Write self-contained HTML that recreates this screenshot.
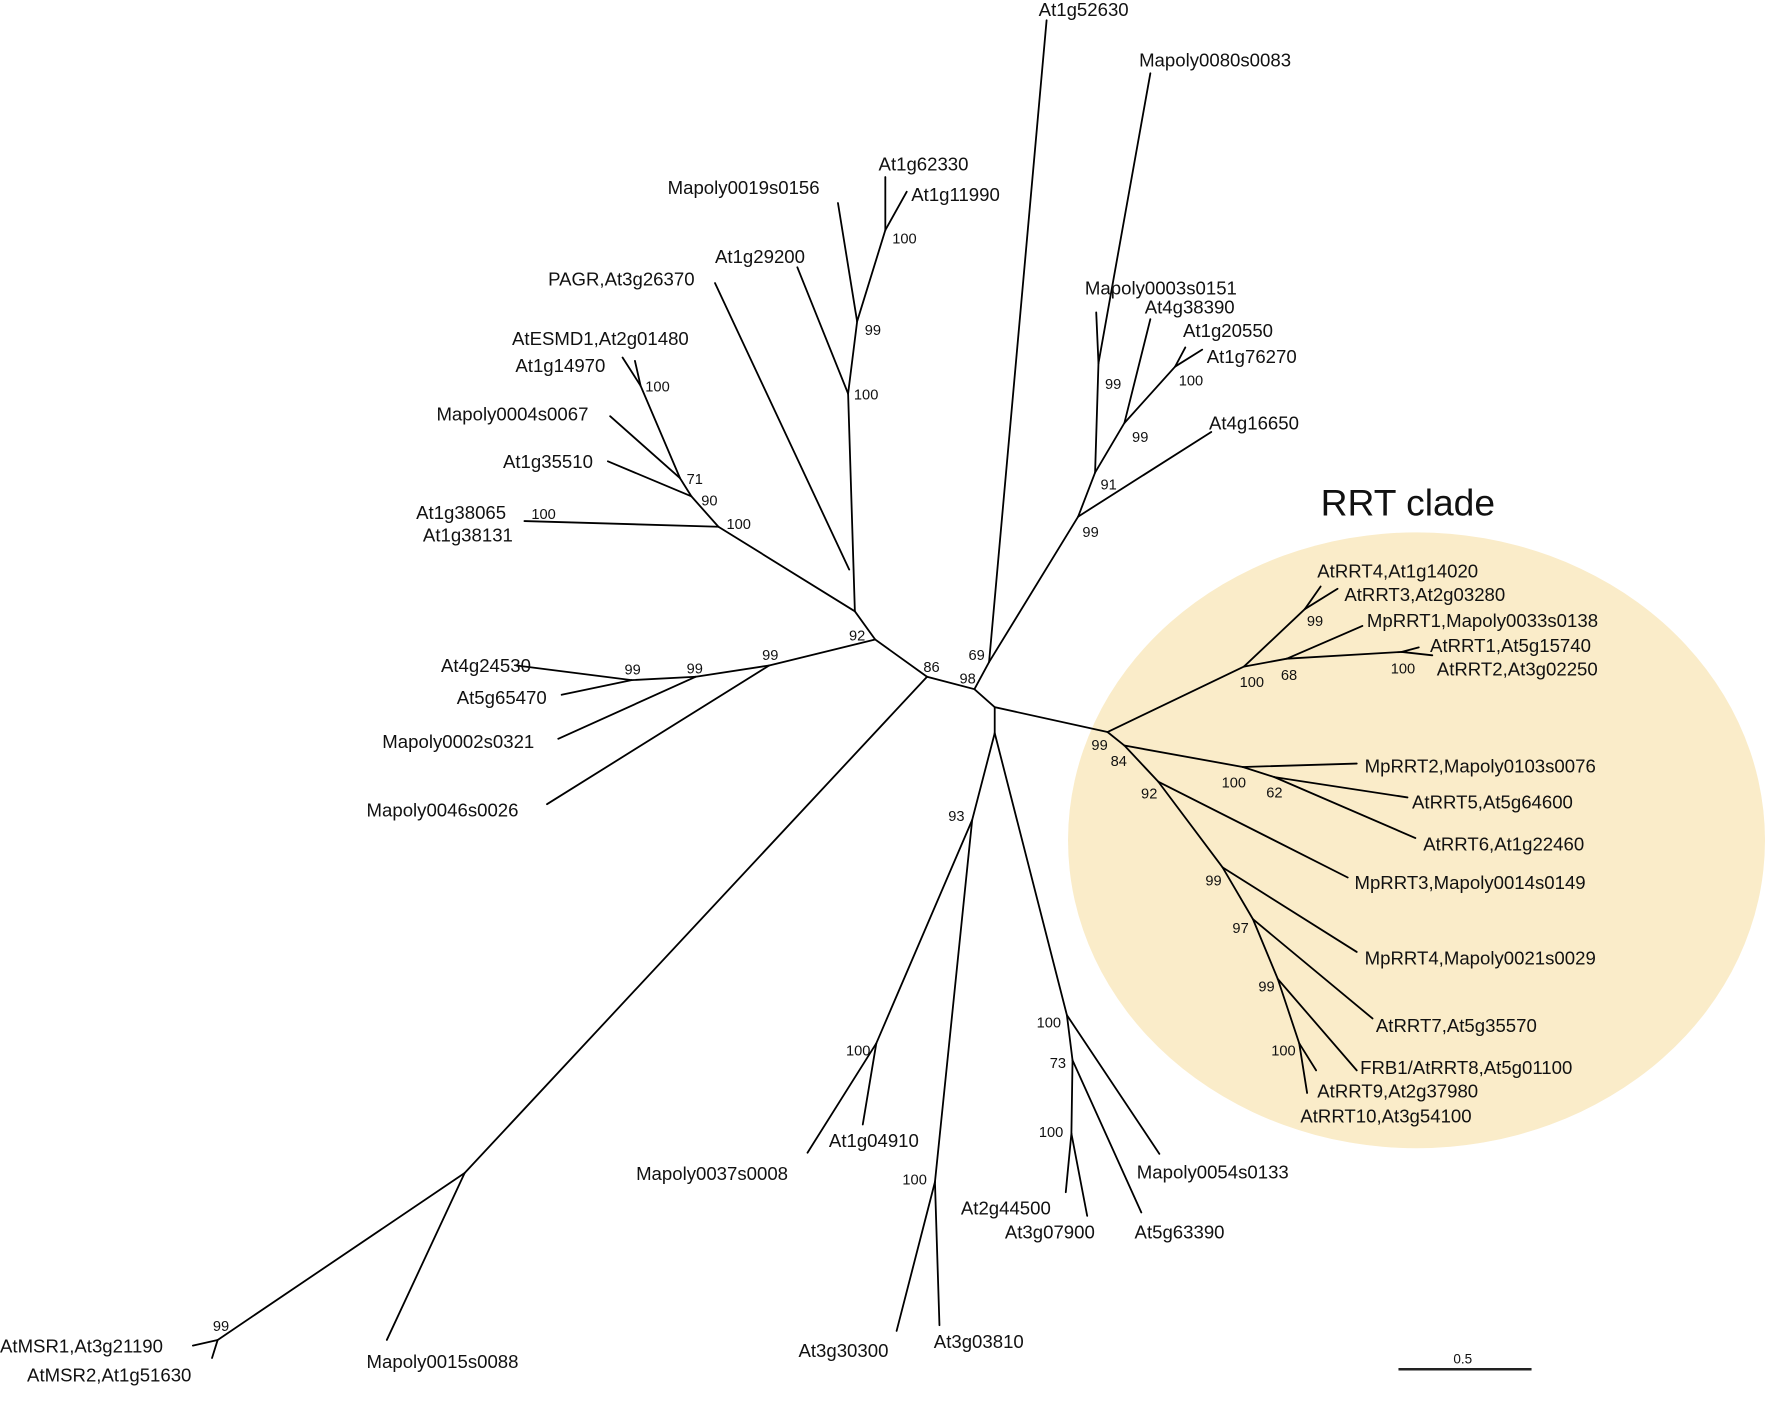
<!DOCTYPE html>
<html><head><meta charset="utf-8"><style>
html,body{margin:0;padding:0;background:#fff;}
svg{display:block;}
text{font-family:"Liberation Sans",Arial,sans-serif;fill:#111;}
.l{font-size:16.5px;}
.b{font-size:13px;}
</style></head><body>
<svg width="1765" height="1411" viewBox="0 0 1565 1251" preserveAspectRatio="none" xmlns="http://www.w3.org/2000/svg">
<rect width="1565" height="1251" fill="#fff"/>
<ellipse cx="1256" cy="745" rx="309" ry="273" fill="#faecc9"/>
<g stroke="#000" stroke-width="1.6" fill="none" stroke-linecap="round">
<!-- center -->
<polyline points="982,649 882,627 864,611 822,600 776,567 758,542"/>
<line x1="882" y1="627" x2="882" y2="650"/>
<line x1="864" y1="611" x2="877" y2="587"/>
<line x1="877" y1="587" x2="928" y2="18"/>
<line x1="877" y1="587" x2="956" y2="458"/>
<line x1="956" y1="458" x2="1074" y2="383"/>
<line x1="956" y1="458" x2="971" y2="419"/>
<line x1="971" y1="419" x2="974" y2="322"/>
<line x1="974" y1="322" x2="972" y2="277"/>
<line x1="974" y1="322" x2="1020" y2="65"/>
<line x1="971" y1="419" x2="997" y2="375"/>
<line x1="997" y1="375" x2="1020" y2="283"/>
<line x1="997" y1="375" x2="1042" y2="325"/>
<line x1="1042" y1="325" x2="1051" y2="308"/>
<line x1="1042" y1="325" x2="1066" y2="310"/>
<!-- top-left cluster -->
<line x1="758" y1="542" x2="752" y2="349"/>
<line x1="753" y1="505" x2="634" y2="251"/>
<line x1="752" y1="349" x2="707" y2="237"/>
<line x1="752" y1="349" x2="760" y2="285"/>
<line x1="760" y1="285" x2="743" y2="180"/>
<line x1="760" y1="285" x2="785" y2="204"/>
<line x1="785" y1="204" x2="785" y2="157"/>
<line x1="785" y1="204" x2="804" y2="170"/>
<line x1="758" y1="542" x2="637" y2="467"/>
<line x1="637" y1="467" x2="465" y2="462"/>
<line x1="637" y1="467" x2="613" y2="440"/>
<line x1="613" y1="440" x2="539" y2="409"/>
<line x1="613" y1="440" x2="603" y2="424"/>
<line x1="603" y1="424" x2="541" y2="369"/>
<line x1="603" y1="424" x2="568" y2="342"/>
<line x1="568" y1="342" x2="552" y2="317"/>
<line x1="568" y1="342" x2="563" y2="320"/>
<!-- left cluster -->
<line x1="776" y1="567" x2="682" y2="590"/>
<line x1="682" y1="590" x2="485" y2="713"/>
<line x1="682" y1="590" x2="617" y2="600"/>
<line x1="617" y1="600" x2="495" y2="655"/>
<line x1="617" y1="600" x2="560" y2="603"/>
<line x1="560" y1="603" x2="458" y2="590"/>
<line x1="560" y1="603" x2="498" y2="616"/>
<!-- bottom left -->
<line x1="822" y1="600" x2="412" y2="1040"/>
<line x1="412" y1="1040" x2="193" y2="1188"/>
<line x1="412" y1="1040" x2="343" y2="1188"/>
<line x1="193" y1="1188" x2="171" y2="1193"/>
<line x1="193" y1="1188" x2="188" y2="1204"/>
<!-- bottom -->
<line x1="882" y1="650" x2="862" y2="727"/>
<line x1="862" y1="727" x2="777" y2="925"/>
<line x1="777" y1="925" x2="716" y2="1022"/>
<line x1="777" y1="925" x2="765" y2="997"/>
<line x1="862" y1="727" x2="829" y2="1048"/>
<line x1="829" y1="1048" x2="795" y2="1180"/>
<line x1="829" y1="1048" x2="833" y2="1175"/>
<line x1="882" y1="650" x2="946" y2="900"/>
<line x1="946" y1="900" x2="1028" y2="1023"/>
<line x1="946" y1="900" x2="951" y2="940"/>
<line x1="951" y1="940" x2="1012" y2="1075"/>
<line x1="951" y1="940" x2="950" y2="1005"/>
<line x1="950" y1="1005" x2="945" y2="1057"/>
<line x1="950" y1="1005" x2="964" y2="1078"/>
<!-- RRT -->
<line x1="982" y1="649" x2="1103" y2="591"/>
<line x1="1103" y1="591" x2="1157" y2="540"/>
<line x1="1157" y1="540" x2="1171" y2="520"/>
<line x1="1157" y1="540" x2="1186" y2="522"/>
<line x1="1103" y1="591" x2="1141" y2="584"/>
<line x1="1141" y1="584" x2="1208" y2="555"/>
<line x1="1141" y1="584" x2="1243" y2="578"/>
<line x1="1243" y1="578" x2="1258" y2="574"/>
<line x1="1243" y1="578" x2="1270" y2="581"/>
<line x1="982" y1="649" x2="997" y2="661"/>
<line x1="997" y1="661" x2="1102" y2="680"/>
<line x1="1102" y1="680" x2="1203" y2="677"/>
<line x1="1102" y1="680" x2="1130" y2="689"/>
<line x1="1130" y1="689" x2="1248" y2="707"/>
<line x1="1130" y1="689" x2="1255" y2="743"/>
<line x1="997" y1="661" x2="1027" y2="693"/>
<line x1="1027" y1="693" x2="1195" y2="778"/>
<line x1="1027" y1="693" x2="1084" y2="769"/>
<line x1="1084" y1="769" x2="1203" y2="844"/>
<line x1="1084" y1="769" x2="1111" y2="815"/>
<line x1="1111" y1="815" x2="1217" y2="903"/>
<line x1="1111" y1="815" x2="1133" y2="868"/>
<line x1="1133" y1="868" x2="1203" y2="949"/>
<line x1="1133" y1="868" x2="1152" y2="925"/>
<line x1="1152" y1="925" x2="1167" y2="949"/>
<line x1="1152" y1="925" x2="1159" y2="969"/>
</g>
<line x1="1240" y1="1214" x2="1358" y2="1214" stroke="#222" stroke-width="2.2"/>
<g class="l">
<text x="921" y="14">At1g52630</text>
<text x="1010" y="59">Mapoly0080s0083</text>
<text x="779" y="151">At1g62330</text>
<text x="808" y="178">At1g11990</text>
<text x="592" y="172">Mapoly0019s0156</text>
<text x="634" y="233">At1g29200</text>
<text x="486" y="253">PAGR,At3g26370</text>
<text x="962" y="261">Mapoly0003s0151</text>
<text x="1015" y="278">At4g38390</text>
<text x="1049" y="299">At1g20550</text>
<text x="1070" y="322">At1g76270</text>
<text x="1072" y="381">At4g16650</text>
<text x="454" y="306">AtESMD1,At2g01480</text>
<text x="457" y="330">At1g14970</text>
<text x="387" y="373">Mapoly0004s0067</text>
<text x="446" y="415">At1g35510</text>
<text x="369" y="460">At1g38065</text>
<text x="375" y="480">At1g38131</text>
<text x="391" y="596">At4g24530</text>
<text x="405" y="624">At5g65470</text>
<text x="339" y="663">Mapoly0002s0321</text>
<text x="325" y="724">Mapoly0046s0026</text>
<text x="1168" y="512">AtRRT4,At1g14020</text>
<text x="1192" y="533">AtRRT3,At2g03280</text>
<text x="1212" y="556">MpRRT1,Mapoly0033s0138</text>
<text x="1268" y="578">AtRRT1,At5g15740</text>
<text x="1274" y="599">AtRRT2,At3g02250</text>
<text x="1210" y="685">MpRRT2,Mapoly0103s0076</text>
<text x="1252" y="717">AtRRT5,At5g64600</text>
<text x="1262" y="754">AtRRT6,At1g22460</text>
<text x="1201" y="788">MpRRT3,Mapoly0014s0149</text>
<text x="1210" y="855">MpRRT4,Mapoly0021s0029</text>
<text x="1220" y="915">AtRRT7,At5g35570</text>
<text x="1206" y="952">FRB1/AtRRT8,At5g01100</text>
<text x="1168" y="973">AtRRT9,At2g37980</text>
<text x="1153" y="995">AtRRT10,At3g54100</text>
<text x="1008" y="1045">Mapoly0054s0133</text>
<text x="1006" y="1098">At5g63390</text>
<text x="852" y="1077">At2g44500</text>
<text x="891" y="1098">At3g07900</text>
<text x="735" y="1017">At1g04910</text>
<text x="564" y="1046">Mapoly0037s0008</text>
<text x="708" y="1203">At3g30300</text>
<text x="828" y="1195">At3g03810</text>
<text x="325" y="1213">Mapoly0015s0088</text>
<text x="0" y="1199">AtMSR1,At3g21190</text>
<text x="24" y="1225">AtMSR2,At1g51630</text>
</g>
<text x="1171" y="457" font-size="33">RRT clade</text>
<text x="1297" y="1209" font-size="12" text-anchor="middle">0.5</text>
<g class="b" text-anchor="middle">
<text x="802" y="216">100</text><text x="774" y="297">99</text><text x="768" y="354">100</text>
<text x="583" y="347">100</text><text x="616" y="429">71</text><text x="629" y="448">90</text>
<text x="655" y="469">100</text><text x="482" y="460">100</text><text x="760" y="568">92</text>
<text x="561" y="598">99</text><text x="616" y="597">99</text><text x="683" y="585">99</text>
<text x="826" y="596">86</text><text x="866" y="585">69</text><text x="858" y="606">98</text>
<text x="987" y="345">99</text><text x="1011" y="392">99</text><text x="1056" y="342">100</text>
<text x="983" y="434">91</text><text x="967" y="476">99</text><text x="1166" y="555">99</text>
<text x="1110" y="609">100</text><text x="1143" y="603">68</text><text x="1244" y="597">100</text>
<text x="975" y="665">99</text><text x="992" y="679">84</text><text x="1094" y="698">100</text>
<text x="1130" y="707">62</text><text x="1019" y="708">92</text><text x="1076" y="785">99</text>
<text x="1100" y="827">97</text><text x="1123" y="879">99</text><text x="1138" y="936">100</text>
<text x="848" y="728">93</text><text x="761" y="936">100</text><text x="930" y="911">100</text>
<text x="938" y="947">73</text><text x="932" y="1008">100</text><text x="811" y="1050">100</text>
<text x="196" y="1180">99</text>
</g>
</svg>
</body></html>
